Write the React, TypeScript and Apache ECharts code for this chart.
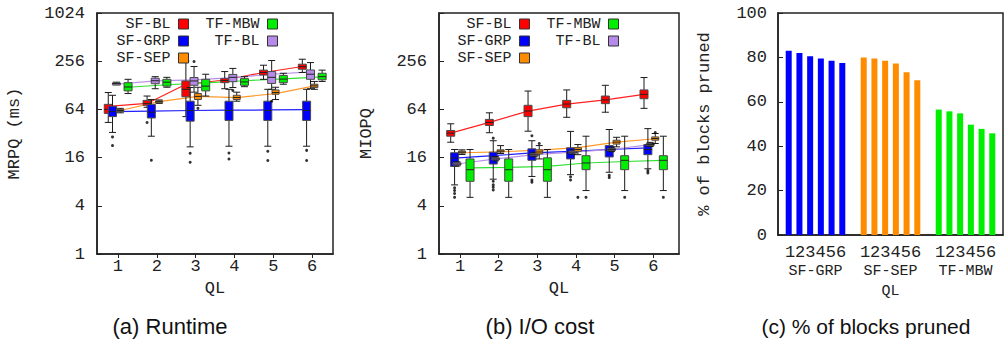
import React, { useEffect, useRef } from 'react';
import * as echarts from 'echarts';

// ---------- data ----------
const QL = [1, 2, 3, 4, 5, 6];
const SERIES_NAMES = ['SF-BL', 'SF-GRP', 'TF-BL', 'SF-SEP', 'TF-MBW'];

// (a) Runtime, MRPQ (ms): [min, q1, median, q3, max] per QL
const runtimeSFBL = [[44, 57, 64, 74, 104], [68, 72, 76, 83, 94], [52, 92, 114, 145, 258], [116, 138, 147, 155, 190], [152, 172, 185, 198, 228], [185, 203, 219, 235, 271]];
const runtimeSFGRP = [[33, 52, 60, 70, 96], [29.6, 50, 59, 74, 85], [21.8, 45.6, 62, 81, 120], [22.2, 46.6, 62, 81, 114], [22.2, 46.6, 62, 81, 114], [22.2, 46.6, 62, 81, 114]];
const runtimeSFSEP = [[58, 60, 62, 64, 66], [76, 78, 80, 82, 84], [72, 85, 93, 101, 121], [81, 85, 90, 96, 105], [85, 99, 104, 112, 121], [114, 120, 126, 132, 143]];
const runtimeTFMBW = [[101, 109, 122, 138, 152], [121, 125, 140, 152, 161], [94, 109, 125, 152, 176], [123, 128, 141, 155, 164], [132, 138, 153, 170, 181], [143, 150, 164, 181, 198]];
const runtimeTFBL = [[130, 133, 135, 137, 140], [116, 134, 146, 157, 164], [105, 128, 145, 160, 220], [120, 142, 161, 175, 208], [114, 135, 161, 190, 261], [116, 152, 176, 199, 246]];
// connecting lines (means)
const runtimeMeanSFBL = [70, 76, 132, 149, 185, 220];
const runtimeMeanSFGRP = [60, 61, 62, 62.5, 63, 63.5];
const runtimeMeanSFSEP = [62, 80, 93, 90, 101, 126];
const runtimeMeanTFMBW = [121, 130, 137, 146, 154, 163];
const runtimeMeanTFBL = [132, 145, 150, 160, 176, 188];
// outliers [QL, value]
const runtimeOutSFBL = [[2, 44]];
const runtimeOutSFGRP = [[1, 29], [1, 22.6], [2, 14.8], [3, 18.1], [3, 14], [4, 18.3], [4, 15.4], [5, 19.2], [5, 14.7], [6, 19.7], [6, 14.7]];
const runtimeOutSFSEP = [[3, 66]];
const runtimeOutTFMBW: number[][] = [];
const runtimeOutTFBL = [[3, 254], [4, 110], [5, 81]];

// (b) I/O cost, MIOPQ: [min, q1, median, q3, max] per QL
const ioSFBL = [[24.9, 29.6, 32.3, 34.9, 42.3], [32.7, 40.3, 44, 48, 58], [34.2, 52, 61, 72, 108.5], [51, 67, 74.6, 83, 112], [59, 75.5, 84, 94, 128], [66, 87, 98.7, 112, 160]];
const ioSFGRP = [[7.3, 12.4, 15.8, 18.4, 20.2], [8.6, 13.3, 16.3, 18.7, 26], [9.3, 14.8, 17.4, 20.6, 26], [9.8, 15.4, 18.3, 21.2, 34], [10.5, 16.3, 19.6, 22.6, 35.9], [11.6, 17.4, 20.2, 23.3, 36.8]];
const ioSFSEP = [[17.5, 18.2, 18.7, 19.3, 20], [18, 18.8, 19.3, 20, 22.6], [15.4, 17.8, 18.8, 20, 22.6], [17.4, 19.2, 20.2, 21.3, 23.3], [21.8, 23.6, 25, 26.4, 28.7], [24, 26.4, 27.7, 29, 32]];
const ioTFMBW = [[5.1, 8.1, 11.3, 15.4, 20.2], [5.1, 8.1, 11.3, 15.4, 20.2], [5.1, 8.1, 11.3, 15.9, 20.2], [6.2, 11.3, 13.7, 16.9, 29.6], [6.2, 11.3, 14.8, 16.9, 29.6], [6.2, 11.3, 14.8, 16.9, 29.6]];
const ioTFBL = [[12.6, 12.9, 13.3, 13.8, 14.2], [14.6, 15, 15.4, 15.9, 16.4], [16.4, 16.9, 17.4, 18, 18.6], [17.6, 18.2, 18.7, 19.3, 20], [19, 19.6, 20.2, 20.8, 21.6], [22, 22.6, 23.3, 24, 24.8]];
const ioMeanSFBL = [32.3, 44, 61, 74.6, 84, 98.7];
const ioMeanSFGRP = [15.8, 16.9, 18.3, 19.1, 20.2, 21.2];
const ioMeanSFSEP = [18.4, 18.9, 19.8, 21.3, 25, 27.5];
const ioMeanTFMBW = [11.9, 12.1, 12.4, 13.7, 14.3, 14.8];
const ioMeanTFBL = [13.3, 15.4, 17.4, 18.7, 20.2, 23.3];
const ioOutSFBL: number[][] = [];
const ioOutSFGRP = [[1, 6.7], [1, 6.2], [1, 5.7], [1, 5.1], [2, 28], [2, 8.1], [2, 7.3], [2, 6.8], [2, 6.3], [3, 30], [3, 8.4], [3, 7.9], [4, 9.2], [4, 8.4], [5, 9.6], [5, 9], [6, 11], [6, 10.3]];
const ioOutSFSEP = [[3, 24], [4, 5.1], [6, 33]];
const ioOutTFMBW = [[4, 5.1], [5, 5.1], [6, 5.1]];
const ioOutTFBL: number[][] = [];

// (c) % of blocks pruned per QL
const PRUNED_GROUPS = ['SF-GRP', 'SF-SEP', 'TF-MBW'];
const prunedSFGRP = [83, 82, 80.5, 79.5, 78.5, 77.5];
const prunedSFSEP = [80, 79.5, 78.5, 77.3, 73.3, 69.7];
const prunedTFMBW = [56.5, 55.7, 54.8, 49.7, 47.8, 45.8];

const LOG_TICKS_A = ['1', '4', '16', '64', '256', '1024'];

// ---------- styling ----------
const MONO = '"Liberation Mono", "DejaVu Sans Mono", monospace';
const SANS = '"Liberation Sans", Arial, Helvetica, sans-serif';
const INK = '#222';
const FILL: Record<string, string> = {
  'SF-BL': '#ff0000',
  'SF-GRP': '#0000ff',
  'SF-SEP': '#ff8c00',
  'TF-MBW': '#00ee00',
  'TF-BL': '#b68ae8',
};
const LINE: Record<string, string> = {
  'SF-BL': '#ff2020',
  'SF-GRP': '#2020ff',
  'SF-SEP': '#ff9a2a',
  'TF-MBW': '#30e030',
  'TF-BL': '#b890e6',
};
const OFFSETS_A: Record<string, number> = { 'SF-BL': -0.25, 'SF-GRP': -0.14, 'TF-BL': -0.04, 'SF-SEP': 0.06, 'TF-MBW': 0.26 };
const OFFSETS_B: Record<string, number> = { 'SF-BL': -0.24, 'SF-GRP': -0.14, 'TF-BL': -0.08, 'SF-SEP': 0.05, 'TF-MBW': 0.26 };
const HALF_W: Record<string, number> = { 'SF-BL': 4, 'SF-GRP': 4, 'TF-BL': 4, 'SF-SEP': 3.5, 'TF-MBW': 4 };

function boxRender(color: string, halfW: number) {
  return (_params: any, api: any) => {
    const x = api.value(0);
    const pts = [1, 2, 3, 4, 5].map((i) => api.coord([x, api.value(i)]));
    const cx = pts[2][0];
    const [yMin, yQ1, yMed, yQ3, yMax] = pts.map((p: number[]) => p[1]);
    const wh = { stroke: '#1a1a1a', lineWidth: 1 };
    const cap = 3.5;
    return {
      type: 'group',
      children: [
        { type: 'line', shape: { x1: cx, y1: yMax, x2: cx, y2: yQ3 }, style: wh },
        { type: 'line', shape: { x1: cx, y1: yQ1, x2: cx, y2: yMin }, style: wh },
        { type: 'line', shape: { x1: cx - cap, y1: yMax, x2: cx + cap, y2: yMax }, style: wh },
        { type: 'line', shape: { x1: cx - cap, y1: yMin, x2: cx + cap, y2: yMin }, style: wh },
        {
          type: 'rect',
          shape: { x: cx - halfW, y: yQ3, width: halfW * 2, height: Math.max(yQ1 - yQ3, 2) },
          style: { fill: color, stroke: '#4a4a4a', lineWidth: 1 },
        },
        { type: 'line', shape: { x1: cx - halfW, y1: yMed, x2: cx + halfW, y2: yMed }, style: { stroke: '#222', lineWidth: 1 } },
      ],
    };
  };
}

type PanelData = {
  boxes: Record<string, number[][]>;
  means: Record<string, number[]>;
  outliers: Record<string, number[][]>;
  offsets: Record<string, number>;
};

const PANEL_A: PanelData = {
  boxes: { 'SF-BL': runtimeSFBL, 'SF-GRP': runtimeSFGRP, 'TF-BL': runtimeTFBL, 'SF-SEP': runtimeSFSEP, 'TF-MBW': runtimeTFMBW },
  means: { 'SF-BL': runtimeMeanSFBL, 'SF-GRP': runtimeMeanSFGRP, 'TF-BL': runtimeMeanTFBL, 'SF-SEP': runtimeMeanSFSEP, 'TF-MBW': runtimeMeanTFMBW },
  outliers: { 'SF-BL': runtimeOutSFBL, 'SF-GRP': runtimeOutSFGRP, 'TF-BL': runtimeOutTFBL, 'SF-SEP': runtimeOutSFSEP, 'TF-MBW': runtimeOutTFMBW },
  offsets: OFFSETS_A,
};
const PANEL_B: PanelData = {
  boxes: { 'SF-BL': ioSFBL, 'SF-GRP': ioSFGRP, 'TF-BL': ioTFBL, 'SF-SEP': ioSFSEP, 'TF-MBW': ioTFMBW },
  means: { 'SF-BL': ioMeanSFBL, 'SF-GRP': ioMeanSFGRP, 'TF-BL': ioMeanTFBL, 'SF-SEP': ioMeanSFSEP, 'TF-MBW': ioMeanTFMBW },
  outliers: { 'SF-BL': ioOutSFBL, 'SF-GRP': ioOutSFGRP, 'TF-BL': ioOutTFBL, 'SF-SEP': ioOutSFSEP, 'TF-MBW': ioOutTFMBW },
  offsets: OFFSETS_B,
};

function panelSeries(p: number, d: PanelData) {
  const out: any[] = [];
  SERIES_NAMES.forEach((name) => {
    const off = d.offsets[name];
    out.push({
      type: 'line',
      name,
      xAxisIndex: p,
      yAxisIndex: p,
      data: d.means[name].map((v, i) => [QL[i] + off, v]),
      symbol: 'none',
      lineStyle: { color: LINE[name], width: 1.2 },
      itemStyle: { color: FILL[name] },
      z: 2,
      silent: true,
    });
  });
  SERIES_NAMES.forEach((name, k) => {
    const off = d.offsets[name];
    out.push({
      type: 'custom',
      name,
      xAxisIndex: p,
      yAxisIndex: p,
      renderItem: boxRender(FILL[name], HALF_W[name]),
      data: d.boxes[name].map((b, i) => [QL[i] + off, ...b]),
      encode: { x: 0, y: [1, 2, 3, 4, 5] },
      itemStyle: { color: FILL[name] },
      z: 3 + k * 0.01,
      silent: true,
    });
  });
  const pts: number[][] = [];
  SERIES_NAMES.forEach((name) => {
    d.outliers[name].forEach(([q, v]) => pts.push([q + d.offsets[name], v]));
  });
  out.push({
    type: 'scatter',
    xAxisIndex: p,
    yAxisIndex: p,
    data: pts,
    symbolSize: 3,
    itemStyle: { color: '#000' },
    z: 5,
    silent: true,
  });
  return out;
}

const axisText = { fontFamily: MONO, fontSize: 17, color: INK };
const axisLine = { show: true, lineStyle: { color: INK, width: 1.5 } };

function qlAxis(p: number, min: number, max: number) {
  return {
    gridIndex: p,
    type: 'value',
    min,
    max,
    name: 'QL',
    nameLocation: 'middle',
    nameGap: 21,
    nameTextStyle: axisText,
    axisLine,
    axisTick: { show: true, customValues: QL, length: 4, lineStyle: { color: INK } },
    axisLabel: { ...axisText, customValues: QL, margin: 4, formatter: (v: number) => String(Math.round(v)) },
    splitLine: { show: false },
  };
}

function logAxis(p: number, name: string, nameGap: number, hideTop: boolean) {
  return {
    gridIndex: p,
    type: 'log',
    logBase: 2,
    min: 1,
    max: 1024,
    interval: 2,
    name,
    nameLocation: 'middle',
    nameRotate: 90,
    nameGap,
    nameTextStyle: axisText,
    axisLine,
    axisTick: { show: true, inside: true, length: 5, lineStyle: { color: INK } },
    axisLabel: {
      ...axisText,
      margin: 12,
      formatter: (v: number) => {
        const r = String(Math.round(v));
        if (hideTop && r === LOG_TICKS_A[LOG_TICKS_A.length - 1]) return '';
        return r;
      },
    },
    splitLine: { show: false },
    minorTick: { show: false },
  };
}

// bar positions on panel (c): groups of six with one empty slot between
const GROUP_START = [1, 8, 15];
const PRUNED_VALUES = [prunedSFGRP, prunedSFSEP, prunedTFMBW];
const GROUP_CENTERS = GROUP_START.map((s) => s + (QL.length - 1) / 2);

function prunedLabel(v: number) {
  const g = GROUP_CENTERS.findIndex((c) => Math.abs(c - v) < 1e-6);
  if (g < 0) return '';
  return '{d|' + QL.join('') + '}\n{g|' + PRUNED_GROUPS[g] + '}';
}

function legendItem(name: string, right: number, top: number) {
  return {
    data: [{ name, itemStyle: { color: FILL[name], borderColor: '#333', borderWidth: 1 } }],
    right,
    top,
    orient: 'horizontal',
    align: 'right',
    icon: 'rect',
    itemWidth: 10,
    itemHeight: 10,
    padding: 0,
    selectedMode: false,
    textStyle: { fontFamily: MONO, fontSize: 15, color: INK, lineHeight: 14, padding: [0, 3, 0, 0] },
  };
}

function buildOption() {
  const legends: any[] = [];
  const rowsTop = [16.5, 33.5, 50.5];
  const layoutA: [string, number, number][] = [['SF-BL', 819, 0], ['SF-GRP', 819, 1], ['SF-SEP', 819, 2], ['TF-MBW', 730, 0], ['TF-BL', 730, 1]];
  const layoutB: [string, number, number][] = [['SF-BL', 478, 0], ['SF-GRP', 478, 1], ['SF-SEP', 478, 2], ['TF-MBW', 389, 0], ['TF-BL', 389, 1]];
  [...layoutA, ...layoutB].forEach(([n, r, row]) => legends.push(legendItem(n, r, rowsTop[row])));

  const barSeries = PRUNED_GROUPS.map((name, g) => ({
    type: 'bar',
    name: name + ' pruned',
    xAxisIndex: 2,
    yAxisIndex: 2,
    data: PRUNED_VALUES[g].map((v, i) => [GROUP_START[g] + i, v]),
    barWidth: 6,
    barGap: '-100%',
    itemStyle: { color: FILL[name] },
    silent: true,
  }));

  return {
    animation: false,
    backgroundColor: '#fff',
    textStyle: { fontFamily: MONO },
    grid: [
      { left: 97, top: 13, width: 236, height: 241, show: true, borderColor: INK, borderWidth: 1.5, backgroundColor: 'transparent' },
      { left: 439, top: 13, width: 240, height: 241, show: true, borderColor: INK, borderWidth: 1.5, backgroundColor: 'transparent' },
      { left: 778, top: 13, width: 225, height: 222, show: true, borderColor: INK, borderWidth: 1.5, backgroundColor: 'transparent' },
    ],
    legend: legends,
    xAxis: [
      qlAxis(0, 0.46, 6.54),
      qlAxis(1, 0.457, 6.665),
      {
        gridIndex: 2,
        type: 'value',
        min: 0,
        max: 21,
        name: 'QL',
        nameLocation: 'middle',
        nameGap: 45,
        nameTextStyle: { ...axisText, fontSize: 15, lineHeight: 15 },
        axisLine,
        axisTick: { show: false },
        axisLabel: {
          ...axisText,
          customValues: GROUP_CENTERS,
          margin: 8,
          formatter: prunedLabel,
          rich: {
            d: { fontFamily: MONO, fontSize: 17, lineHeight: 19.5, color: INK },
            g: { fontFamily: MONO, fontSize: 15, lineHeight: 17.5, color: INK },
          },
        },
        splitLine: { show: false },
      },
    ],
    yAxis: [
      logAxis(0, 'MRPQ (ms)', 74, false),
      logAxis(1, 'MIOPQ', 64, true),
      {
        gridIndex: 2,
        type: 'value',
        min: 0,
        max: 100,
        interval: 20,
        name: '% of blocks pruned',
        nameLocation: 'middle',
        nameRotate: 90,
        nameGap: 65,
        nameTextStyle: axisText,
        axisLine,
        axisTick: { show: true, inside: true, length: 5, lineStyle: { color: INK } },
        axisLabel: { ...axisText, margin: 11 },
        splitLine: { show: false },
      },
    ],
    series: [...panelSeries(0, PANEL_A), ...panelSeries(1, PANEL_B), ...barSeries],
    graphic: [
      { type: 'text', x: 170, y: 326, style: { text: '(a) Runtime', font: `22px ${SANS}`, fill: '#111', align: 'center', verticalAlign: 'middle' } },
      { type: 'text', x: 540, y: 326, style: { text: '(b) I/O cost', font: `22px ${SANS}`, fill: '#111', align: 'center', verticalAlign: 'middle' } },
      { type: 'text', x: 866, y: 326, style: { text: '(c) % of blocks pruned', font: `21px ${SANS}`, fill: '#111', align: 'center', verticalAlign: 'middle' } },
    ],
  };
}

export default function App() {
  const ref = useRef<HTMLDivElement | null>(null);
  useEffect(() => {
    if (!ref.current) return;
    const chart = echarts.init(ref.current, undefined, { renderer: 'svg' });
    chart.setOption(buildOption() as any);
    return () => chart.dispose();
  }, []);
  return <div ref={ref} style={{ position: 'absolute', left: 0, top: 0, width: 1008, height: 351 }} />;
}
